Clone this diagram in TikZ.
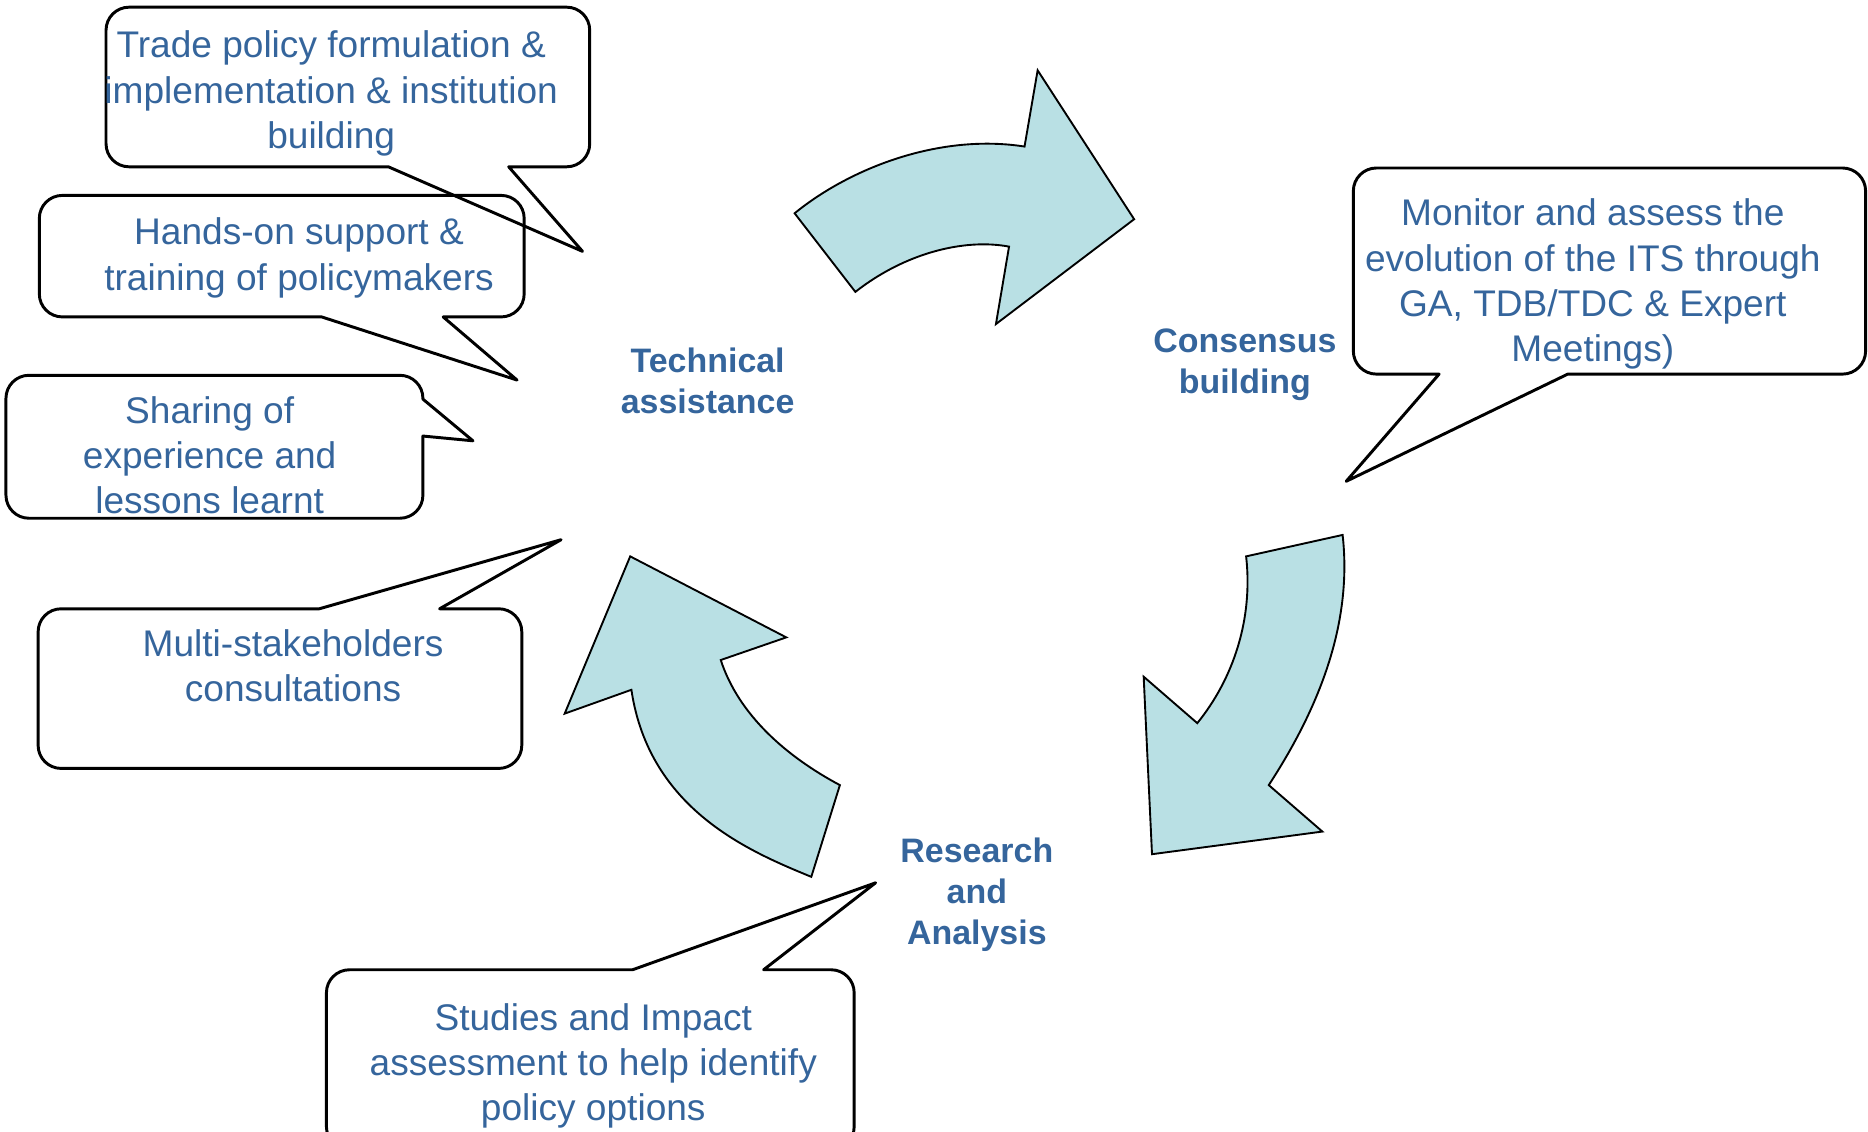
\documentclass[tikz,border=0pt]{standalone}
\usepackage{fontspec}
\setmainfont{Liberation Sans}
\definecolor{txtblue}{RGB}{53,101,156}
\definecolor{arrowfill}{RGB}{185,224,228}
\tikzset{
  bubble/.style={draw=black,line width=0.7pt,rounded corners=5.5pt,line join=round},
  note/.style={text=txtblue,align=center,inner sep=0pt,font=\fontsize{8.85}{10.8}\selectfont},
  phase/.style={text=txtblue,align=center,inner sep=0pt,font=\fontsize{8.1}{9.8}\selectfont\bfseries},
  cyclearrow/.style={draw=black,fill=arrowfill,line width=0.45pt}
}

\begin{document}
\begin{tikzpicture}[x=0.01cm,y=-0.01cm]
  \useasboundingbox (0,0) rectangle (1568,950);
  % the three curved arrows of the cycle
  \draw[cyclearrow] (667,179) .. controls (715,140) and (790,112) .. (860,123) -- (871,59) -- (952,184) -- (836,272) -- (847,207) .. controls (810,200) and (760,212) .. (718,245) -- cycle;
  \draw[cyclearrow] (1127,449) .. controls (1135,520) and (1110,590) .. (1065,659) -- (1110,698) -- (967,717) -- (960,568) -- (1005,607) .. controls (1035,570) and (1052,520) .. (1046,467) -- cycle;
  \draw[cyclearrow] (705,659) -- (681,736) .. controls (630,715) and (545,680) .. (530,579) -- (474,599) -- (529,467) -- (660,535) -- (605,554) .. controls (620,600) and (660,635) .. (705,659) -- cycle;
  % phases
  \node[phase] (tech) at (594,319.5) {Technical\\assistance};
  \node[phase] (cons) at (1045,306) {Consensus\\building};
  \node[phase] (res) at (820,751) {Research\\and\\Analysis};
  % callouts
  \draw[bubble] (427,140) -- (495,140) -- (495,6) -- (89,6) -- (89,140) [sharp corners] -- (326,140) -- (489,211) -- cycle;
  \draw[bubble] (372,266) -- (440,266) -- (440,164) -- (33,164) -- (33,266) [sharp corners] -- (270,266) -- (434,319) -- cycle;
  \draw[bubble] (355,366) -- (355,435) -- (5,435) -- (5,315) -- (355,315) [sharp corners] -- (355,335) -- (397,370) -- cycle;
  \draw[bubble] (369,511) -- (438,511) -- (438,645) -- (32,645) -- (32,511) [sharp corners] -- (268,511) -- (471,453) -- cycle;
  \draw[bubble] (641,814) -- (717,814) -- (717,965) -- (274,965) -- (274,814) [sharp corners] -- (531,814) -- (735,741) -- cycle;
  \draw[bubble] (1316,314) -- (1566,314) -- (1566,141) -- (1136,141) -- (1136,314) [sharp corners] -- (1208,314) -- (1130,404) -- cycle;
  \node[note] (tpf) at (278,78.5) {Trade policy formulation \&\\implementation \& institution\\building};
  \node[note] (hands) at (251,216.5) {Hands-on support \&\\training of policymakers};
  \node[note] (share) at (176,382) {Sharing of\\experience and\\lessons learnt};
  \node[note] (multi) at (246,558.5) {Multi-stakeholders\\consultations};
  \node[note] (studies) at (498,894.5) {Studies and Impact\\assessment to help identify\\policy options};
  \node[note] (monitor) at (1337,238.5) {Monitor and assess the\\evolution of the ITS through\\GA, TDB/TDC \& Expert\\Meetings)};
\end{tikzpicture}
\end{document}
